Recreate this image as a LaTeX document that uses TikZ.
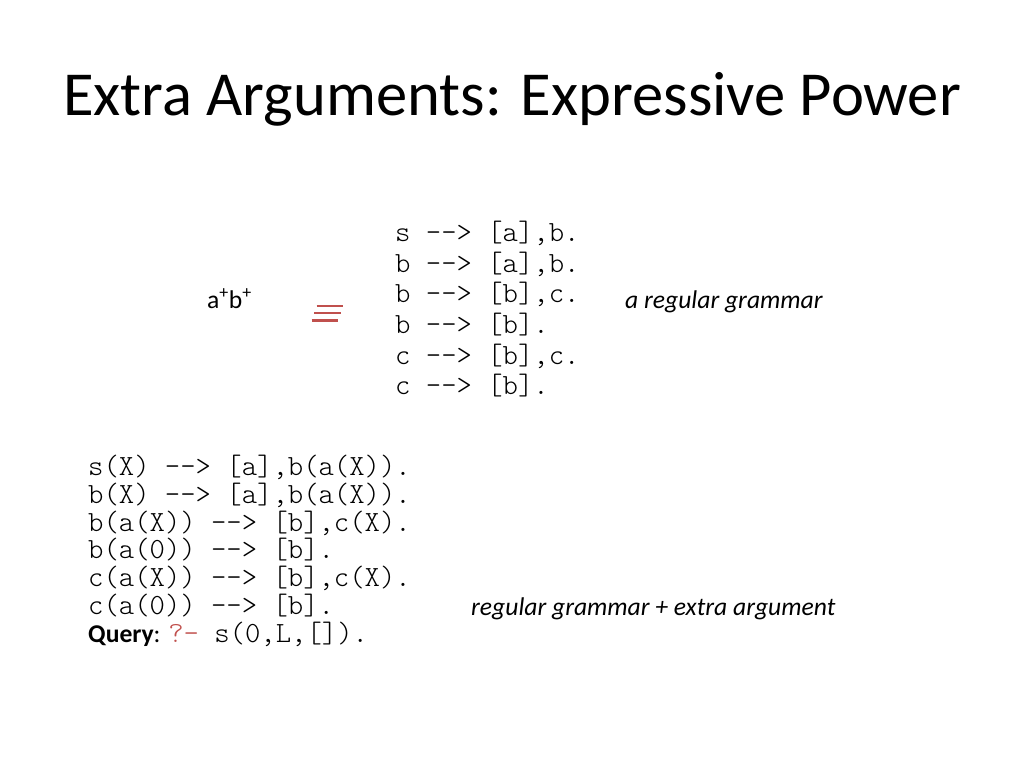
\documentclass[tikz,border=0pt]{standalone}
\usepackage{fontspec}
\setmainfont{Carlito}
\newfontfamily\codefont{Latin Modern Mono Light}
\definecolor{accred}{HTML}{C0504D}
\tikzset{
  title/.style={anchor=base, inner sep=0pt, font=\fontsize{62.6}{75}\selectfont},
  code/.style={anchor=base west, inner sep=0pt, font=\codefont\fontsize{29.26}{30}\selectfont},
  body/.style={anchor=base west, inner sep=0pt, font=\fontsize{25.6}{30}\selectfont},
  note/.style={anchor=base west, inner sep=0pt, font=\itshape\fontsize{25.6}{30}\selectfont},
  eqbar/.style={draw=accred, line width=2.8pt}
}
\begin{document}
\begin{tikzpicture}[x=1pt,y=-1pt]
\useasboundingbox (0,0) rectangle (1024,768);
\node[title] (t) at (512,115) {Extra Arguments: Expressive Power};
% upper grammar
\node[code] (u1) at (395,241.7) {s --> [a],b.};
\node[code] (u2) at (395,272.3) {b --> [a],b.};
\node[code] (u3) at (395,302.9) {b --> [b],c.};
\node[code] (u4) at (395,333.5) {b --> [b].};
\node[code] (u5) at (395,364.1) {c --> [b],c.};
\node[code] (u6) at (395,394.7) {c --> [b].};
\node[body] (lang) at (207,308) {a\textsuperscript{+}b\textsuperscript{+}};
\node[note] (reg) at (625,308) {a regular grammar};
% equivalence sign
\coordinate (e1a) at (316.7,306); \coordinate (e1b) at (342.7,306);
\coordinate (e2a) at (314,313); \coordinate (e2b) at (340.5,313);
\coordinate (e3a) at (311.7,320.3); \coordinate (e3b) at (337.5,320.3);
\draw[eqbar] (e1a) -- (e1b);
\draw[eqbar] (e2a) -- (e2b);
\draw[eqbar] (e3a) -- (e3b);
% lower grammar
\node[code] (l1) at (88,475.7) {s(X) --> [a],b(a(X)).};
\node[code] (l2) at (88,503.4) {b(X) --> [a],b(a(X)).};
\node[code] (l3) at (88,531.2) {b(a(X)) --> [b],c(X).};
\node[code] (l4) at (88,558.9) {b(a(0)) --> [b].};
\node[code] (l5) at (88,586.7) {c(a(X)) --> [b],c(X).};
\node[code] (l6) at (88,614.4) {c(a(0)) --> [b].};
\node[body] (q) at (88,642.2) {\textbf{Query}: {\codefont\fontsize{29.26}{30}\selectfont\textcolor{accred}{?-} s(0,L,[]).}};
\node[note] (ext) at (471,615) {regular grammar + extra argument};
\end{tikzpicture}
\end{document}
